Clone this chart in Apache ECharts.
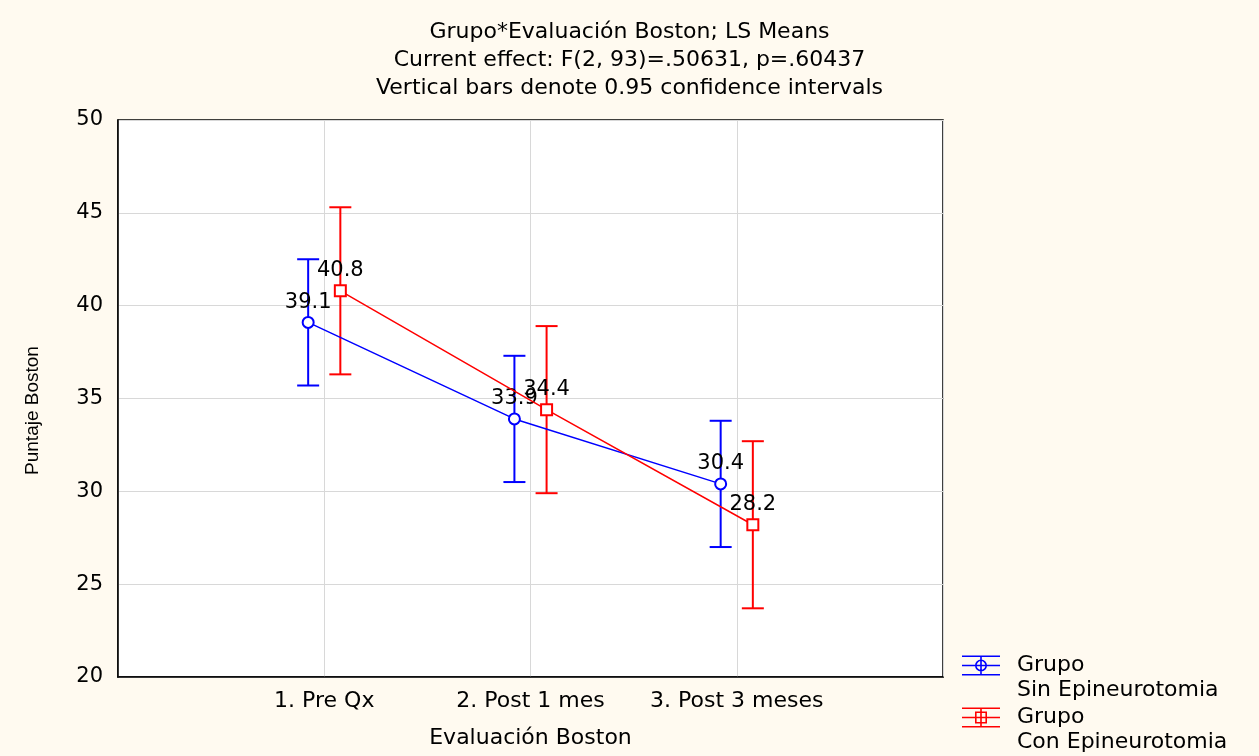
<!DOCTYPE html>
<html>
<head>
<meta charset="utf-8">
<script src="https://cdn.jsdelivr.net/npm/echarts@6/dist/echarts.min.js"></script>
<style>
html,body{margin:0;padding:0;background:#fffaf0;}
#chart{width:1259px;height:756px;}
</style>
</head>
<body>
<div id="chart"></div>
<script>
const categories = ['1. Pre Qx', '2. Post 1 mes', '3. Post 3 meses'];
const sinName = 'Grupo\nSin Epineurotomia';
const conName = 'Grupo\nCon Epineurotomia';
const sinMean = [39.1, 33.9, 30.4];
const sinLow = [35.7, 30.5, 27.0];
const sinHigh = [42.5, 37.3, 33.8];
const conMean = [40.8, 34.4, 28.2];
const conLow = [36.3, 29.9, 23.7];
const conHigh = [45.3, 38.9, 32.7];
const yTicks = [20, 25, 30, 35, 40, 45, 50];
const titleLines = [
  'Grupo*Evaluación Boston; LS Means',
  'Current effect: F(2, 93)=.50631, p=.60437',
  'Vertical bars denote 0.95 confidence intervals'
];

const BLUE = '#0000ff', RED = '#ff0000';
const FONT = '"DejaVu Sans", "Liberation Sans", sans-serif';
const NARROW = '"Liberation Sans", Arial, sans-serif';
const DODGE = 0.078; // horizontal dodge between groups, in category units

function pts(means, off) { return means.map((v, i) => [i + 1 + off, v]); }
function bars(lo, hi, off) { return lo.map((v, i) => [i + 1 + off, v, hi[i]]); }

function errRender(color) {
  return function (params, api) {
    const x = api.value(0);
    const p1 = api.coord([x, api.value(2)]);
    const p2 = api.coord([x, api.value(1)]);
    const w = 11;
    const st = { stroke: color, lineWidth: 2 };
    return { type: 'group', children: [
      { type: 'line', shape: { x1: p1[0], y1: p1[1], x2: p2[0], y2: p2[1] }, style: st },
      { type: 'line', shape: { x1: p1[0] - w, y1: p1[1], x2: p1[0] + w, y2: p1[1] }, style: st },
      { type: 'line', shape: { x1: p2[0] - w, y1: p2[1], x2: p2[0] + w, y2: p2[1] }, style: st }
    ]};
  };
}

const iconCircle = 'path://M0 0H38V1.6H0Z M0 18.4H38V20H0Z M0 9.2H38V10.8H0Z M18.2 0H19.8V20H18.2Z ' +
  'M25 10A6 6 0 1 1 13 10A6 6 0 1 1 25 10Z M23.4 10A4.4 4.4 0 1 0 14.6 10A4.4 4.4 0 1 0 23.4 10Z';
const iconSquare = 'path://M0 0H38V1.6H0Z M0 18.4H38V20H0Z M0 9.2H38V10.8H0Z M18.2 0H19.8V20H18.2Z ' +
  'M13 4H25V16H13Z M14.6 5.6V14.4H23.4V5.6Z';

const chart = echarts.init(document.getElementById('chart'));
chart.setOption({
  backgroundColor: '#fffaf0',
  animation: false,
  textStyle: { fontFamily: FONT },
  title: {
    text: titleLines.join('\n'),
    left: 'center', top: 18, padding: 0,
    textStyle: { fontSize: 22, fontWeight: 'normal', color: '#000', lineHeight: 28, fontFamily: FONT }
  },
  legend: {
    orient: 'vertical', left: 962, top: 628, padding: 0,
    itemWidth: 38, itemHeight: 20, itemGap: -23,
    selectedMode: false,
    formatter: name => ' \n' + name,
    textStyle: { fontSize: 22, color: '#000', lineHeight: 25, padding: [0, 0, 0, 12], fontFamily: FONT },
    data: [
      { name: sinName, icon: iconCircle, itemStyle: { color: BLUE, borderWidth: 0 } },
      { name: conName, icon: iconSquare, itemStyle: { color: RED, borderWidth: 0 } }
    ]
  },
  grid: {
    left: 118, top: 120, right: 316, bottom: 79,
    show: true, backgroundColor: '#ffffff', borderColor: '#000', borderWidth: 1.5
  },
  xAxis: {
    type: 'value', min: 0, max: 4, interval: 1,
    name: 'Evaluación Boston', nameLocation: 'middle', nameGap: 50,
    nameTextStyle: { fontSize: 22, color: '#000', fontFamily: FONT },
    axisLine: { show: true, lineStyle: { color: '#000', width: 1.5 } },
    axisTick: { show: false },
    axisLabel: {
      fontSize: 22, color: '#000', margin: 13, fontFamily: FONT,
      formatter: v => (v >= 1 && v <= categories.length ? categories[v - 1] : '')
    },
    splitLine: { show: true, lineStyle: { color: '#d8d8d8', width: 1 } }
  },
  yAxis: {
    type: 'value', min: yTicks[0], max: yTicks[yTicks.length - 1], interval: 5,
    name: 'Puntaje Boston', nameLocation: 'middle', nameGap: 76, nameRotate: 90,
    nameTextStyle: { fontSize: 19, color: '#000', fontFamily: NARROW, padding: [0, 24, 0, 0] },
    axisLine: { show: true, lineStyle: { color: '#000', width: 1.5 } },
    axisTick: { show: false },
    axisLabel: { fontSize: 21, color: '#000', margin: 15, fontFamily: FONT },
    splitLine: { show: true, lineStyle: { color: '#d8d8d8', width: 1 } }
  },
  series: [
    { name: 'ci-sin', type: 'custom', renderItem: errRender(BLUE), data: bars(sinLow, sinHigh, -DODGE), encode: { x: 0, y: [1, 2] }, z: 2 },
    { name: 'ci-con', type: 'custom', renderItem: errRender(RED), data: bars(conLow, conHigh, DODGE), encode: { x: 0, y: [1, 2] }, z: 3 },
    {
      name: sinName, type: 'line', data: pts(sinMean, -DODGE), z: 4,
      symbol: 'emptyCircle', symbolSize: 11,
      itemStyle: { color: BLUE, borderWidth: 1.5 },
      lineStyle: { color: BLUE, width: 1.5 },
      label: { show: true, position: 'top', distance: 3, fontSize: 21, color: '#000', fontFamily: FONT, formatter: p => p.value[1].toFixed(1) }
    },
    {
      name: conName, type: 'line', data: pts(conMean, DODGE), z: 5,
      symbol: 'emptyRect', symbolSize: 11,
      itemStyle: { color: RED, borderWidth: 1.5 },
      lineStyle: { color: RED, width: 1.5 },
      label: { show: true, position: 'top', distance: 3, fontSize: 21, color: '#000', fontFamily: FONT, formatter: p => p.value[1].toFixed(1) }
    }
  ]
});
</script>
</body>
</html>
